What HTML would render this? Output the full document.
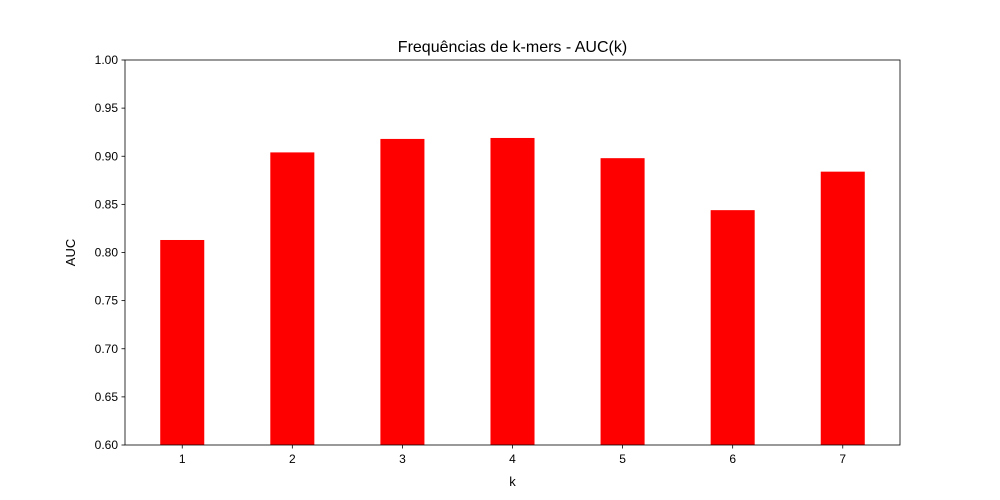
<!DOCTYPE html>
<html><head><meta charset="utf-8"><style>
body{margin:0;background:#fff;}
svg{display:block;font-family:"Liberation Sans","DejaVu Sans",sans-serif;}
</style></head><body>
<svg id="chart" width="1000" height="500">
<rect width="1000" height="500" fill="#fff"/>
<text x="512.5" y="52" text-anchor="middle" font-size="16">Frequências de k-mers - AUC(k)</text>
<g id="bars"></g>
<g id="axes"></g>
<text x="512.5" y="486" text-anchor="middle" font-size="13">k</text>
<text transform="translate(75,252.5) rotate(-90)" text-anchor="middle" font-size="13">AUC</text>
</svg>
<script>
const categories=[1,2,3,4,5,6,7];
const aucValues=[0.813,0.904,0.918,0.919,0.898,0.844,0.884];
const yTicks=[0.60,0.65,0.70,0.75,0.80,0.85,0.90,0.95,1.00];
const L=125,R=900,T=60,B=445;
const xMin=0.48,xMax=7.52,yMin=0.6,yMax=1.0,barW=0.4;
const xs=v=>L+(v-xMin)/(xMax-xMin)*(R-L);
const ys=v=>B-(v-yMin)/(yMax-yMin)*(B-T);
const NS="http://www.w3.org/2000/svg";
const bars=document.getElementById('bars'),axes=document.getElementById('axes');
function mk(tag,attrs,parent){const e=document.createElementNS(NS,tag);for(const k in attrs)e.setAttribute(k,attrs[k]);parent.appendChild(e);return e;}
categories.forEach((c,i)=>{
 const x0=xs(c-barW/2),x1=xs(c+barW/2),y=ys(aucValues[i]);
 const r=mk('rect',{x:x0,y:y,width:x1-x0,height:B-y,fill:'#ff0000'},bars);
 
 
 const t=mk('line',{x1:xs(c),x2:xs(c),y1:B,y2:B+3.5,stroke:'#000','stroke-width':0.8},axes);
 
 
 const l=mk('text',{x:xs(c),y:B+18,'text-anchor':'middle','font-size':12},axes);
 l.textContent=c;
 
 
});
yTicks.forEach(v=>{
 const y=ys(v);
 const t=mk('line',{x1:L-3.5,x2:L,y1:y,y2:y,stroke:'#000','stroke-width':0.8},axes);
 
 
 const l=mk('text',{x:L-7,y:y+4,'text-anchor':'end','font-size':12},axes);
 l.textContent=v.toFixed(2);
 
 
});
const f=mk('rect',{x:L,y:T,width:R-L,height:B-T,fill:'none',stroke:'#000','stroke-width':0.8},axes);


</script>
</body></html>
